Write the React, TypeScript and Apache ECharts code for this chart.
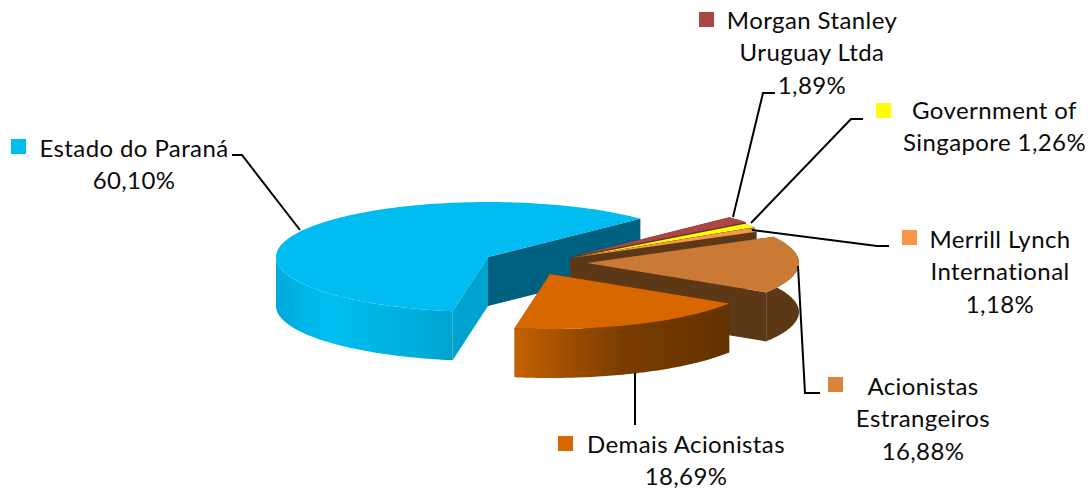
import React, { useEffect, useRef } from "react";
import * as echarts from "echarts";

const names = ["Estado do Paraná", "Morgan Stanley Uruguay Ltda", "Government of Singapore", "Merrill Lynch International", "Acionistas Estrangeiros", "Demais Acionistas"];
const values = [60.1, 1.89, 1.26, 1.18, 16.88, 18.69];
const labelLines = [
  ["Estado do Paraná", "60,10%"],
  ["Morgan Stanley", "Uruguay Ltda", "1,89%"],
  ["Government of", "Singapore 1,26%"],
  ["Merrill Lynch", "International", "1,18%"],
  ["Acionistas", "Estrangeiros", "16,88%"],
  ["Demais Acionistas", "18,69%"],
];

const FIRST_ANGLE = 99.6;
const RX = 212, RY = 55, DEPTH = 49;
const apexes = [[488, 257], [577, 255.5], [576, 257], [570, 258], [587, 263], [550, 274]];
const topColors = ["#00BCF0", "#AA4643", "#FFFF00", "#F39A4C", "#CB7A35", "#D96700"];
const faceColors = ["#006080", "#6B2A28", "#2A2A00", "#5C3817", "#5C3817", "#6A3400"];
const endFaceColors = ["#00A3CF", "#6B2A28", "#2A2A00", "#5C3817", "#5C3817", "#6A3400"];
const wallStops: [number, string][][] = [
  [[0, "#00AADA"], [0.3, "#00BEF2"], [0.8, "#00AEDC"], [1, "#00A2CC"]],
  [[0, "#6B2A28"], [1, "#6B2A28"]],
  [[0, "#8A8A00"], [1, "#8A8A00"]],
  [[0, "#5C3817"], [1, "#5C3817"]],
  [[0, "#5C3817"], [1, "#5C3817"]],
  [[0, "#C56200"], [0.2, "#A55200"], [0.5, "#7A3D00"], [1, "#633100"]],
];
const markerColors = ["#00BCF0", "#AA4643", "#FFFF00", "#F79646", "#DB843D", "#D96700"];
const markers = [[11, 139], [699, 12], [876, 103], [902, 230], [828, 377], [558, 436]];
const labelCenters = [[134, 147], [812, 19], [994.5, 109], [1000, 238], [923, 385], [686, 443]];
const leaders = [
  [[300, 230], [242, 155], [232, 155]],
  [[733, 217], [763, 93], [775, 93]],
  [[751, 223], [851, 119], [863, 119]],
  [[752, 230], [877, 246], [889, 246]],
  [[798, 266], [805, 393], [820, 393]],
  [[635, 373], [635, 425]],
];
const LINE_HEIGHT = 32.6;

const rad = (d: number) => (d * Math.PI) / 180;
const total = values.reduce((a, b) => a + b, 0);

function angles(i: number) {
  let start = FIRST_ANGLE;
  for (let k = 0; k < i; k++) start += (values[k] / total) * 360;
  return [start, start + (values[i] / total) * 360];
}

function arc(cx: number, cy: number, a0: number, a1: number) {
  const pts: number[][] = [];
  const n = Math.max(2, Math.ceil(a1 - a0));
  for (let k = 0; k <= n; k++) {
    const t = rad(a0 + ((a1 - a0) * k) / n);
    pts.push([cx + RX * Math.cos(t), cy + RY * Math.sin(t)]);
  }
  return pts;
}

function renderSlice(params: any) {
  const i = params.dataIndex;
  const [cx, cy] = apexes[i];
  const [a0, a1] = angles(i);
  const rim = arc(cx, cy, a0, a1);
  const first = rim[0];
  const last = rim[rim.length - 1];
  const down = (p: number[]) => [p[0], p[1] + DEPTH];
  const apex = [cx, cy];
  const poly = (points: number[][], fill: any) => ({
    type: "polygon",
    shape: { points },
    style: { fill, stroke: null },
    silent: true,
  });
  const wallPts = i === 0 ? arc(cx, cy, a0, 180) : rim;
  const wall = [...wallPts, ...wallPts.slice().reverse().map(down)];
  const wallFill = new echarts.graphic.LinearGradient(0, 0, 1, 0, wallStops[i].map(([offset, color]) => ({ offset, color })));
  return {
    type: "group",
    children: [
      poly([apex, first, down(first), down(apex)], endFaceColors[i]),
      poly([apex, last, down(last), down(apex)], faceColors[i]),
      poly(wall, wallFill),
      poly([apex, ...rim], topColors[i]),
    ],
  };
}

export default function App() {
  const ref = useRef<HTMLDivElement>(null);
  useEffect(() => {
    const chart = echarts.init(ref.current!, undefined, { renderer: "svg" });
    const graphic: any[] = [];
    names.forEach((_, i) => {
      graphic.push({
        type: "polyline",
        shape: { points: leaders[i] },
        style: { stroke: "#000", lineWidth: 2, fill: null },
        z: 10,
      });
      graphic.push({
        type: "rect",
        shape: { x: markers[i][0], y: markers[i][1], width: 15, height: 15 },
        style: { fill: markerColors[i] },
        z: 10,
      });
      labelLines[i].forEach((line, k) => {
        graphic.push({
          type: "text",
          x: labelCenters[i][0],
          y: labelCenters[i][1] + k * LINE_HEIGHT,
          style: {
            text: line,
            fill: "#0a0a0a",
            font: '24px Lato, "Open Sans", sans-serif',
            textAlign: "center",
            textVerticalAlign: "middle",
          },
          z: 10,
        });
      });
    });
    chart.setOption({
      animation: false,
      backgroundColor: "#fff",
      series: [
        {
          type: "custom",
          coordinateSystem: "none",
          data: values.map((v, i) => ({ name: names[i], value: [v] })),
          renderItem: renderSlice,
          silent: true,
        },
      ],
      graphic,
    });
    return () => chart.dispose();
  }, []);
  return (
    <>
      <style>{`svg text { letter-spacing: 0.4px; font-variant-ligatures: none; font-feature-settings: "liga" 0, "clig" 0, "calt" 0, "dlig" 0; }`}</style>
      <div ref={ref} style={{ position: "fixed", left: 0, top: 0, width: 1088, height: 491 }} />
    </>
  );
}
